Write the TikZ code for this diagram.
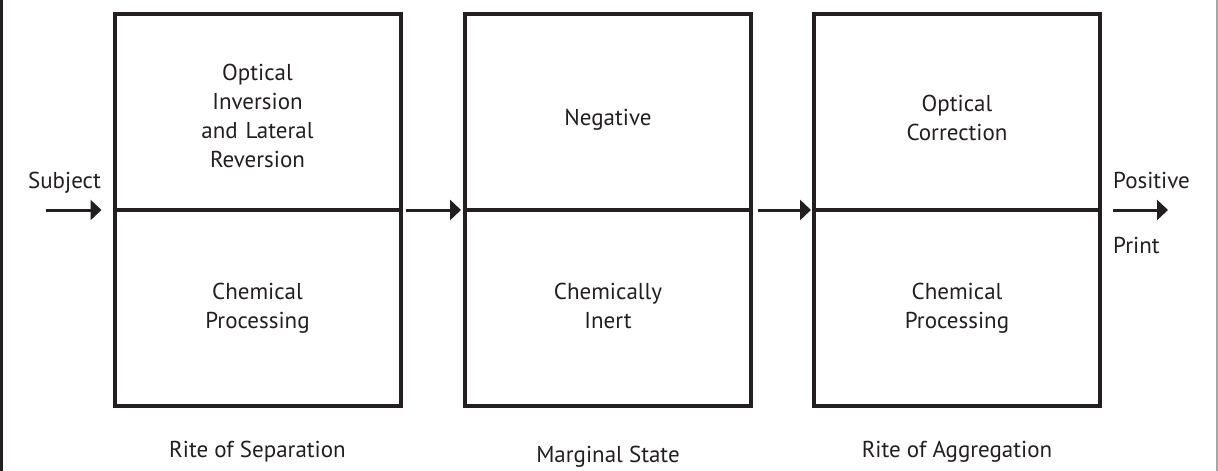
\documentclass[tikz,border=0pt]{standalone}
\usepackage{fontspec}
\setmainfont{PT Sans}
\usetikzlibrary{arrows.meta}
\definecolor{ink}{RGB}{35,31,32}
\begin{document}
\begin{tikzpicture}[x=1pt,y=-1pt,
  stage/.style={draw=ink, line width=4pt, minimum width=286pt, minimum height=392pt,
    inner sep=0pt, outer sep=0pt},
  txt/.style={text=ink, font=\fontsize{23}{29}\selectfont, inner sep=0pt},
  boxtxt/.style={txt, align=center, text width=270pt, anchor=base},
  flow/.style={draw=ink, line width=3pt, -{Triangle[length=11pt,width=20pt]}},
  divider/.style={draw=ink, line width=3.5pt},
]
\useasboundingbox (0,0) rectangle (1218,471);
% frame edges
\draw[ink, line width=3pt] (1.5,0) -- (1.5,471);
\draw[gray!70, line width=2pt] (1217,0) -- (1217,471);

% three stages
\node[stage] (b1) at (257.5,210) {};
\node[stage] (b2) at (608,210) {};
\node[stage] (b3) at (957,210) {};
\foreach \b in {b1,b2,b3}
  \draw[divider] (\b.west) -- (\b.east);

% stage texts
\node[boxtxt] (t1a) at (257.5,80) {Optical\\Inversion\\and Lateral\\Reversion};
\node[boxtxt] (t1b) at (257.5,299) {Chemical\\Processing};
\node[boxtxt] (t2a) at (608,125) {Negative};
\node[boxtxt] (t2b) at (608,299) {Chemically\\Inert};
\node[boxtxt] (t3a) at (957,111) {Optical\\Correction};
\node[boxtxt] (t3b) at (957,299) {Chemical\\Processing};

% captions
\node[txt, anchor=base] (c1) at (257.5,457) {Rite of Separation};
\node[txt, anchor=base] (c2) at (608,462) {Marginal State};
\node[txt, anchor=base] (c3) at (957,457) {Rite of Aggregation};

% input and output
\node[txt, anchor=base] (subj) at (64.5,188) {Subject};
\node[txt, anchor=base west] (pos) at (1113,188) {Positive};
\node[txt, anchor=base west] (prt) at (1113,253) {Print};
\coordinate (in) at (46,210);
\coordinate (out) at (1168,210);

% flow arrows
\draw[flow, shorten >=13pt] (in) -- (b1.west);
\draw[flow, shorten <=5pt, shorten >=4pt] (b1.east) -- (b2.west);
\draw[flow, shorten <=7pt, shorten >=3pt] (b2.east) -- (b3.west);
\draw[flow, shorten <=13pt] (b3.east) -- (out);
\end{tikzpicture}
\end{document}
